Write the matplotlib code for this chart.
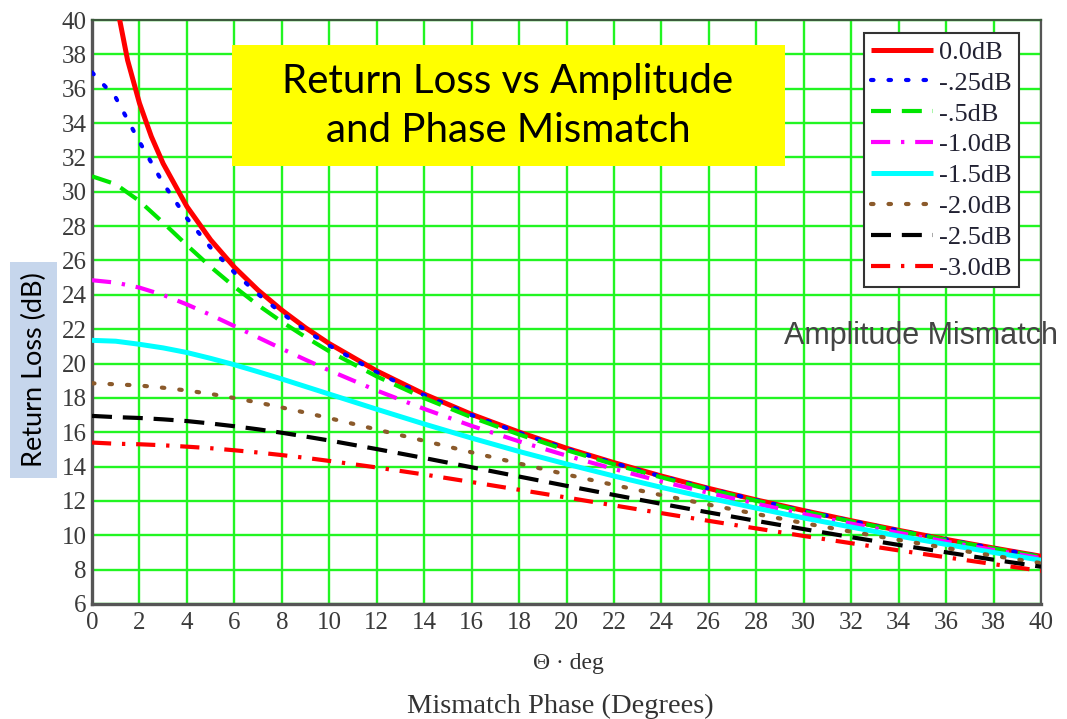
import matplotlib
matplotlib.use("Agg")
import matplotlib.pyplot as plt
from matplotlib.patches import Rectangle

# ---------------- data ----------------
theta = [0, 1, 2, 3, 4, 5, 6, 7, 8, 9, 10, 12, 14, 16, 18, 20, 22, 24, 26, 28, 30, 32, 34, 36, 38, 40]
theta_0db = [1, 1.5, 2, 2.5, 3, 4, 5, 6, 7, 8, 9, 10, 12, 14, 16, 18, 20, 22, 24, 26, 28, 30, 32, 34, 36, 38, 40]

rl_0_0 = [41.18, 37.66, 35.16, 33.22, 31.64, 29.14, 27.20, 25.61, 24.27, 23.11, 22.08, 21.16, 19.57, 18.22, 17.04,
          16.01, 15.07, 14.23, 13.45, 12.73, 12.06, 11.44, 10.85, 10.29, 9.76, 9.26, 8.78]
rl_0_25 = [36.95, 35.48, 32.91, 30.49, 28.46, 26.75, 25.30, 24.04, 22.93, 21.94, 21.05, 19.49, 18.16, 17.00, 15.97,
           15.04, 14.20, 13.43, 12.72, 12.05, 11.43, 10.84, 10.28, 9.76, 9.25, 8.77]
rl_0_5 = [30.90, 30.44, 29.46, 28.20, 26.89, 25.63, 24.47, 23.40, 22.43, 21.54, 20.71, 19.25, 17.99, 16.87, 15.87,
          14.96, 14.13, 13.37, 12.67, 12.01, 11.39, 10.81, 10.26, 9.73, 9.23, 8.75]
rl_1_0 = [24.85, 24.71, 24.42, 23.99, 23.44, 22.83, 22.18, 21.52, 20.86, 20.22, 19.60, 18.43, 17.36, 16.37, 15.47,
          14.64, 13.86, 13.14, 12.47, 11.84, 11.24, 10.68, 10.14, 9.63, 9.14, 8.67]
rl_1_5 = [21.35, 21.30, 21.12, 20.91, 20.64, 20.30, 19.93, 19.52, 19.10, 18.66, 18.22, 17.34, 16.48, 15.66, 14.88,
          14.15, 13.45, 12.79, 12.17, 11.58, 11.01, 10.48, 9.96, 9.47, 9.00, 8.55]
rl_2_0 = [18.85, 18.79, 18.72, 18.59, 18.43, 18.23, 17.99, 17.73, 17.44, 17.14, 16.82, 16.16, 15.50, 14.83, 14.18,
          13.54, 12.93, 12.34, 11.78, 11.24, 10.71, 10.21, 9.73, 9.26, 8.81, 8.38]
rl_2_5 = [16.95, 16.88, 16.83, 16.75, 16.65, 16.51, 16.35, 16.17, 15.97, 15.75, 15.52, 15.02, 14.50, 13.96, 13.42,
          12.88, 12.35, 11.83, 11.33, 10.84, 10.36, 9.89, 9.44, 9.01, 8.58, 8.17]
rl_3_0 = [15.40, 15.33, 15.30, 15.24, 15.16, 15.07, 14.95, 14.82, 14.67, 14.51, 14.33, 13.95, 13.54, 13.10, 12.65,
          12.20, 11.74, 11.29, 10.84, 10.40, 9.96, 9.54, 9.12, 8.72, 8.32, 7.93]

labels = ["0.0dB", "-.25dB", "-.5dB", "-1.0dB", "-1.5dB", "-2.0dB", "-2.5dB", "-3.0dB"]
x_ticks = list(range(0, 41, 2))
y_ticks = list(range(6, 41, 2))

# ---------------- figure ----------------
W, H = 1067, 719
fig = plt.figure(figsize=(W / 100, H / 100), dpi=100)
L, R, T, B = 92, 1041, 20, 604
ax = fig.add_axes([L / W, 1 - B / H, (R - L) / W, (B - T) / H])
ax.set_xlim(0, 40)
ax.set_ylim(6, 40)
ax.set_xticks(x_ticks)
ax.set_yticks(y_ticks)
ax.grid(True, color="#22F522", lw=1.7, zorder=0)
ax.set_axisbelow(True)

serif = "Liberation Serif"
ax.tick_params(length=0, labelsize=18, colors="#3a3a3a")
ax.tick_params(axis="x", pad=6)
ax.tick_params(axis="y", pad=4)
for lab in ax.get_xticklabels() + ax.get_yticklabels():
    lab.set_fontfamily(serif)

for s in ["left", "bottom"]:
    ax.spines[s].set_color("#555555")
    ax.spines[s].set_linewidth(2.4)
ax.spines["right"].set_color("#555555")
ax.spines["right"].set_linewidth(1.6)
ax.spines["top"].set_color("#3c5a3c")
ax.spines["top"].set_linewidth(1.6)

lw = 3.0
series = [
    (theta_0db, rl_0_0, dict(color="#FF0000", lw=3.6, ls="-")),
    (theta, rl_0_25, dict(color="#0000FF", lw=lw, ls=(0, (0.6, 3.6)), dash_capstyle="round")),
    (theta, rl_0_5, dict(color="#00E600", lw=lw, ls=(0, (4.8, 2.6)))),
    (theta, rl_1_0, dict(color="#FF00FF", lw=lw, ls=(0, (4.6, 2.6, 0.8, 2.6)))),
    (theta, rl_1_5, dict(color="#00FFFF", lw=3.6, ls="-")),
    (theta, rl_2_0, dict(color="#8B5A2B", lw=lw, ls=(0, (0.6, 3.6)), dash_capstyle="round")),
    (theta, rl_2_5, dict(color="#000000", lw=lw, ls=(0, (4.8, 2.6)))),
    (theta, rl_3_0, dict(color="#FF0000", lw=lw, ls=(0, (4.6, 2.6, 0.8, 2.6)))),
]
handles = []
for (xs, ys, st), lab in zip(series, labels):
    h, = ax.plot(xs, ys, label=lab, zorder=3, solid_capstyle="butt", **st)
    handles.append(h)

leg = ax.legend(handles=handles, loc="upper left",
                bbox_to_anchor=(864 / W, 1 - 33 / H), bbox_transform=fig.transFigure,
                borderaxespad=0, frameon=True, fancybox=False, framealpha=1,
                edgecolor="#333333", prop={"family": serif, "size": 19},
                handlelength=2.35, handletextpad=0.2, labelspacing=0.28,
                borderpad=0.28, handleheight=0.7)
leg.get_frame().set_linewidth(1.5)
for t in leg.get_texts():
    t.set_color("#222233")
leg.set_zorder(5)

# title box
fig.patches.append(Rectangle((232 / W, 1 - 166 / H), (785 - 232) / W, (166 - 45) / H,
                             transform=fig.transFigure, facecolor="#FFFF00",
                             edgecolor="none", zorder=4))
fig.text(508 / W, 1 - 106 / H, "Return Loss vs Amplitude\nand Phase Mismatch",
         ha="center", va="center", fontsize=29, family="Lato",
         color="black", linespacing=1.42, zorder=5)

# y label box
fig.patches.append(Rectangle((10 / W, 1 - 478 / H), (57 - 10) / W, (478 - 262) / H,
                             transform=fig.transFigure, facecolor="#C6D6EC",
                             edgecolor="none", zorder=1))
fig.text(34 / W, 1 - 370 / H, "Return Loss (dB)", rotation=90, ha="center", va="center",
         fontsize=19.5, family="Lato", color="black", zorder=2)

fig.text(921 / W, 1 - 336 / H, "Amplitude Mismatch", ha="center", va="center",
         fontsize=22, family="Liberation Sans", color="#444444", zorder=6)

fig.text(568 / W, 1 - 663 / H, "\u0398 \u00b7 deg", ha="center", va="center",
         fontsize=17, family=serif, color="#333333")
fig.text(560 / W, 1 - 706 / H, "Mismatch Phase (Degrees)", ha="center", va="center",
         fontsize=20.5, family=serif, color="#333333")

fig.savefig("out.png", dpi=100)
